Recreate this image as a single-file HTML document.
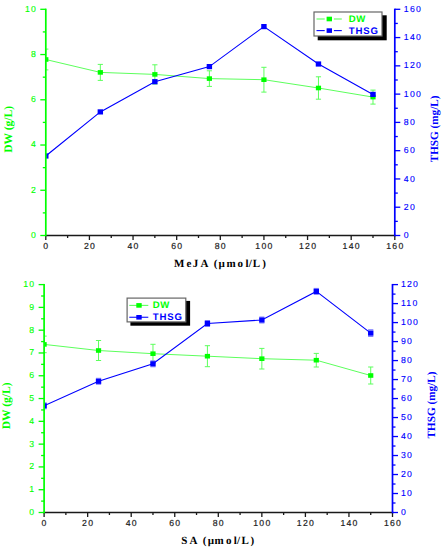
<!DOCTYPE html><html><head><meta charset="utf-8"><style>html,body{margin:0;padding:0;background:#fff;}svg{display:block;} text{text-rendering:geometricPrecision;}</style></head><body>
<svg width="445" height="550" viewBox="0 0 445 550">
<rect width="445" height="550" fill="#fff"/>
<clipPath id="c1"><rect x="46.1" y="9.3" width="349" height="226.2"/></clipPath>
<g clip-path="url(#c1)">
<polyline points="45.8,59.5 100.33,72.4 154.86,74.4 209.39,78.6 263.93,79.7 318.46,88 372.99,97.1" fill="none" stroke="#5cff5c" stroke-width="1"/>
<line x1="45.8" y1="49.1" x2="45.8" y2="69.9" stroke="#5cff5c" stroke-width="1"/>
<line x1="43.2" y1="49.1" x2="48.4" y2="49.1" stroke="#5cff5c" stroke-width="1"/>
<line x1="43.2" y1="69.9" x2="48.4" y2="69.9" stroke="#5cff5c" stroke-width="1"/>
<line x1="100.33" y1="64.4" x2="100.33" y2="80.4" stroke="#5cff5c" stroke-width="1"/>
<line x1="97.73" y1="64.4" x2="102.93" y2="64.4" stroke="#5cff5c" stroke-width="1"/>
<line x1="97.73" y1="80.4" x2="102.93" y2="80.4" stroke="#5cff5c" stroke-width="1"/>
<line x1="154.86" y1="64.8" x2="154.86" y2="84" stroke="#5cff5c" stroke-width="1"/>
<line x1="152.26" y1="64.8" x2="157.46" y2="64.8" stroke="#5cff5c" stroke-width="1"/>
<line x1="152.26" y1="84" x2="157.46" y2="84" stroke="#5cff5c" stroke-width="1"/>
<line x1="209.39" y1="70.8" x2="209.39" y2="86.4" stroke="#5cff5c" stroke-width="1"/>
<line x1="206.79" y1="70.8" x2="211.99" y2="70.8" stroke="#5cff5c" stroke-width="1"/>
<line x1="206.79" y1="86.4" x2="211.99" y2="86.4" stroke="#5cff5c" stroke-width="1"/>
<line x1="263.93" y1="67.3" x2="263.93" y2="92.1" stroke="#5cff5c" stroke-width="1"/>
<line x1="261.32" y1="67.3" x2="266.53" y2="67.3" stroke="#5cff5c" stroke-width="1"/>
<line x1="261.32" y1="92.1" x2="266.53" y2="92.1" stroke="#5cff5c" stroke-width="1"/>
<line x1="318.46" y1="76.8" x2="318.46" y2="99.2" stroke="#5cff5c" stroke-width="1"/>
<line x1="315.86" y1="76.8" x2="321.06" y2="76.8" stroke="#5cff5c" stroke-width="1"/>
<line x1="315.86" y1="99.2" x2="321.06" y2="99.2" stroke="#5cff5c" stroke-width="1"/>
<line x1="372.99" y1="90.1" x2="372.99" y2="104.1" stroke="#5cff5c" stroke-width="1"/>
<line x1="370.39" y1="90.1" x2="375.59" y2="90.1" stroke="#5cff5c" stroke-width="1"/>
<line x1="370.39" y1="104.1" x2="375.59" y2="104.1" stroke="#5cff5c" stroke-width="1"/>
<rect x="43.2" y="57.2" width="5.2" height="4.6" fill="#00ff00"/>
<rect x="97.73" y="70.1" width="5.2" height="4.6" fill="#00ff00"/>
<rect x="152.26" y="72.1" width="5.2" height="4.6" fill="#00ff00"/>
<rect x="206.79" y="76.3" width="5.2" height="4.6" fill="#00ff00"/>
<rect x="261.32" y="77.4" width="5.2" height="4.6" fill="#00ff00"/>
<rect x="315.86" y="85.7" width="5.2" height="4.6" fill="#00ff00"/>
<rect x="370.39" y="94.8" width="5.2" height="4.6" fill="#00ff00"/>
<polyline points="45.8,156 100.33,111.9 154.86,81.7 209.39,66.6 263.93,26.6 318.46,64 372.99,94.4" fill="none" stroke="#0000ff" stroke-width="1.12"/>
<rect x="43.1" y="153.4" width="5.4" height="5.2" fill="#0000ff"/>
<rect x="97.63" y="109.3" width="5.4" height="5.2" fill="#0000ff"/>
<rect x="152.16" y="79.1" width="5.4" height="5.2" fill="#0000ff"/>
<rect x="206.69" y="64" width="5.4" height="5.2" fill="#0000ff"/>
<rect x="261.23" y="24" width="5.4" height="5.2" fill="#0000ff"/>
<rect x="315.76" y="61.4" width="5.4" height="5.2" fill="#0000ff"/>
<rect x="370.29" y="91.8" width="5.4" height="5.2" fill="#0000ff"/>
</g>
<rect x="44.95" y="234.75" width="350.7" height="1.5" fill="#1a1a1a"/>
<rect x="45.15" y="235.5" width="1.3" height="4.5" fill="#1a1a1a"/>
<text x="46.35" y="249.4" fill="#222" font-size="8.7" font-weight="normal" font-family='"Liberation Sans", sans-serif' text-anchor="middle" letter-spacing="1.25" stroke="#222" stroke-width="0.18" >0</text>
<rect x="66.96" y="235.5" width="1.3" height="2.5" fill="#1a1a1a"/>
<rect x="88.77" y="235.5" width="1.3" height="4.5" fill="#1a1a1a"/>
<text x="89.97" y="249.4" fill="#222" font-size="8.7" font-weight="normal" font-family='"Liberation Sans", sans-serif' text-anchor="middle" letter-spacing="1.25" stroke="#222" stroke-width="0.18" >20</text>
<rect x="110.59" y="235.5" width="1.3" height="2.5" fill="#1a1a1a"/>
<rect x="132.4" y="235.5" width="1.3" height="4.5" fill="#1a1a1a"/>
<text x="133.6" y="249.4" fill="#222" font-size="8.7" font-weight="normal" font-family='"Liberation Sans", sans-serif' text-anchor="middle" letter-spacing="1.25" stroke="#222" stroke-width="0.18" >40</text>
<rect x="154.21" y="235.5" width="1.3" height="2.5" fill="#1a1a1a"/>
<rect x="176.03" y="235.5" width="1.3" height="4.5" fill="#1a1a1a"/>
<text x="177.23" y="249.4" fill="#222" font-size="8.7" font-weight="normal" font-family='"Liberation Sans", sans-serif' text-anchor="middle" letter-spacing="1.25" stroke="#222" stroke-width="0.18" >60</text>
<rect x="197.84" y="235.5" width="1.3" height="2.5" fill="#1a1a1a"/>
<rect x="219.65" y="235.5" width="1.3" height="4.5" fill="#1a1a1a"/>
<text x="220.85" y="249.4" fill="#222" font-size="8.7" font-weight="normal" font-family='"Liberation Sans", sans-serif' text-anchor="middle" letter-spacing="1.25" stroke="#222" stroke-width="0.18" >80</text>
<rect x="241.46" y="235.5" width="1.3" height="2.5" fill="#1a1a1a"/>
<rect x="263.28" y="235.5" width="1.3" height="4.5" fill="#1a1a1a"/>
<text x="264.48" y="249.4" fill="#222" font-size="8.7" font-weight="normal" font-family='"Liberation Sans", sans-serif' text-anchor="middle" letter-spacing="1.25" stroke="#222" stroke-width="0.18" >100</text>
<rect x="285.09" y="235.5" width="1.3" height="2.5" fill="#1a1a1a"/>
<rect x="306.9" y="235.5" width="1.3" height="4.5" fill="#1a1a1a"/>
<text x="308.1" y="249.4" fill="#222" font-size="8.7" font-weight="normal" font-family='"Liberation Sans", sans-serif' text-anchor="middle" letter-spacing="1.25" stroke="#222" stroke-width="0.18" >120</text>
<rect x="328.71" y="235.5" width="1.3" height="2.5" fill="#1a1a1a"/>
<rect x="350.53" y="235.5" width="1.3" height="4.5" fill="#1a1a1a"/>
<text x="351.73" y="249.4" fill="#222" font-size="8.7" font-weight="normal" font-family='"Liberation Sans", sans-serif' text-anchor="middle" letter-spacing="1.25" stroke="#222" stroke-width="0.18" >140</text>
<rect x="372.34" y="235.5" width="1.3" height="2.5" fill="#1a1a1a"/>
<rect x="394.15" y="235.5" width="1.3" height="4.5" fill="#1a1a1a"/>
<text x="395.35" y="249.4" fill="#222" font-size="8.7" font-weight="normal" font-family='"Liberation Sans", sans-serif' text-anchor="middle" letter-spacing="1.25" stroke="#222" stroke-width="0.18" >160</text>
<rect x="44.95" y="8.65" width="1.7" height="227.6" fill="#00ff00"/>
<rect x="40.3" y="234.85" width="5.5" height="1.3" fill="#00ff00"/>
<text x="37.1" y="237.9" fill="#00ff00" font-size="8.7" font-weight="normal" font-family='"Liberation Sans", sans-serif' text-anchor="end" letter-spacing="1.25" stroke="#00ff00" stroke-width="0.12" >0</text>
<rect x="42.8" y="212.23" width="3" height="1.3" fill="#00ff00"/>
<rect x="40.3" y="189.61" width="5.5" height="1.3" fill="#00ff00"/>
<text x="37.1" y="192.66" fill="#00ff00" font-size="8.7" font-weight="normal" font-family='"Liberation Sans", sans-serif' text-anchor="end" letter-spacing="1.25" stroke="#00ff00" stroke-width="0.12" >2</text>
<rect x="42.8" y="166.99" width="3" height="1.3" fill="#00ff00"/>
<rect x="40.3" y="144.37" width="5.5" height="1.3" fill="#00ff00"/>
<text x="37.1" y="147.42" fill="#00ff00" font-size="8.7" font-weight="normal" font-family='"Liberation Sans", sans-serif' text-anchor="end" letter-spacing="1.25" stroke="#00ff00" stroke-width="0.12" >4</text>
<rect x="42.8" y="121.75" width="3" height="1.3" fill="#00ff00"/>
<rect x="40.3" y="99.13" width="5.5" height="1.3" fill="#00ff00"/>
<text x="37.1" y="102.18" fill="#00ff00" font-size="8.7" font-weight="normal" font-family='"Liberation Sans", sans-serif' text-anchor="end" letter-spacing="1.25" stroke="#00ff00" stroke-width="0.12" >6</text>
<rect x="42.8" y="76.51" width="3" height="1.3" fill="#00ff00"/>
<rect x="40.3" y="53.89" width="5.5" height="1.3" fill="#00ff00"/>
<text x="37.1" y="56.94" fill="#00ff00" font-size="8.7" font-weight="normal" font-family='"Liberation Sans", sans-serif' text-anchor="end" letter-spacing="1.25" stroke="#00ff00" stroke-width="0.12" >8</text>
<rect x="42.8" y="31.27" width="3" height="1.3" fill="#00ff00"/>
<rect x="40.3" y="8.65" width="5.5" height="1.3" fill="#00ff00"/>
<text x="37.1" y="11.7" fill="#00ff00" font-size="8.7" font-weight="normal" font-family='"Liberation Sans", sans-serif' text-anchor="end" letter-spacing="1.25" stroke="#00ff00" stroke-width="0.12" >10</text>
<rect x="393.95" y="8.65" width="1.7" height="227.6" fill="#0000ff"/>
<rect x="394.8" y="234.85" width="5.5" height="1.3" fill="#0000ff"/>
<text x="403.8" y="238.1" fill="#0000ff" font-size="8.7" font-weight="normal" font-family='"Liberation Sans", sans-serif' text-anchor="start" letter-spacing="1.25" stroke="#0000ff" stroke-width="0.12" >0</text>
<rect x="394.8" y="220.71" width="3" height="1.3" fill="#0000ff"/>
<rect x="394.8" y="206.57" width="5.5" height="1.3" fill="#0000ff"/>
<text x="403.8" y="209.82" fill="#0000ff" font-size="8.7" font-weight="normal" font-family='"Liberation Sans", sans-serif' text-anchor="start" letter-spacing="1.25" stroke="#0000ff" stroke-width="0.12" >20</text>
<rect x="394.8" y="192.44" width="3" height="1.3" fill="#0000ff"/>
<rect x="394.8" y="178.3" width="5.5" height="1.3" fill="#0000ff"/>
<text x="403.8" y="181.55" fill="#0000ff" font-size="8.7" font-weight="normal" font-family='"Liberation Sans", sans-serif' text-anchor="start" letter-spacing="1.25" stroke="#0000ff" stroke-width="0.12" >40</text>
<rect x="394.8" y="164.16" width="3" height="1.3" fill="#0000ff"/>
<rect x="394.8" y="150.03" width="5.5" height="1.3" fill="#0000ff"/>
<text x="403.8" y="153.28" fill="#0000ff" font-size="8.7" font-weight="normal" font-family='"Liberation Sans", sans-serif' text-anchor="start" letter-spacing="1.25" stroke="#0000ff" stroke-width="0.12" >60</text>
<rect x="394.8" y="135.89" width="3" height="1.3" fill="#0000ff"/>
<rect x="394.8" y="121.75" width="5.5" height="1.3" fill="#0000ff"/>
<text x="403.8" y="125" fill="#0000ff" font-size="8.7" font-weight="normal" font-family='"Liberation Sans", sans-serif' text-anchor="start" letter-spacing="1.25" stroke="#0000ff" stroke-width="0.12" >80</text>
<rect x="394.8" y="107.61" width="3" height="1.3" fill="#0000ff"/>
<rect x="394.8" y="93.47" width="5.5" height="1.3" fill="#0000ff"/>
<text x="403.8" y="96.72" fill="#0000ff" font-size="8.7" font-weight="normal" font-family='"Liberation Sans", sans-serif' text-anchor="start" letter-spacing="1.25" stroke="#0000ff" stroke-width="0.12" >100</text>
<rect x="394.8" y="79.34" width="3" height="1.3" fill="#0000ff"/>
<rect x="394.8" y="65.2" width="5.5" height="1.3" fill="#0000ff"/>
<text x="403.8" y="68.45" fill="#0000ff" font-size="8.7" font-weight="normal" font-family='"Liberation Sans", sans-serif' text-anchor="start" letter-spacing="1.25" stroke="#0000ff" stroke-width="0.12" >120</text>
<rect x="394.8" y="51.06" width="3" height="1.3" fill="#0000ff"/>
<rect x="394.8" y="36.92" width="5.5" height="1.3" fill="#0000ff"/>
<text x="403.8" y="40.17" fill="#0000ff" font-size="8.7" font-weight="normal" font-family='"Liberation Sans", sans-serif' text-anchor="start" letter-spacing="1.25" stroke="#0000ff" stroke-width="0.12" >140</text>
<rect x="394.8" y="22.79" width="3" height="1.3" fill="#0000ff"/>
<rect x="394.8" y="8.65" width="5.5" height="1.3" fill="#0000ff"/>
<text x="403.8" y="11.9" fill="#0000ff" font-size="8.7" font-weight="normal" font-family='"Liberation Sans", sans-serif' text-anchor="start" letter-spacing="1.25" stroke="#0000ff" stroke-width="0.12" >160</text>
<rect x="317.7" y="15.3" width="69" height="25" fill="#000"/>
<rect x="314" y="12" width="68" height="24" fill="#fff" stroke="#666" stroke-width="1.2"/>
<line x1="316.5" y1="19" x2="324.7" y2="19" stroke="#5cff5c" stroke-width="1.1"/>
<line x1="333.9" y1="19" x2="341.8" y2="19" stroke="#5cff5c" stroke-width="1.1"/>
<rect x="326.6" y="16.7" width="5.4" height="4.6" fill="#00ff00"/>
<line x1="316.5" y1="30.6" x2="324.7" y2="30.6" stroke="#0000ff" stroke-width="1.1"/>
<line x1="333.9" y1="30.6" x2="341.8" y2="30.6" stroke="#0000ff" stroke-width="1.1"/>
<rect x="326.6" y="28.3" width="5.4" height="4.6" fill="#0000ff"/>
<text x="348.8" y="22" fill="#00ff00" font-size="9.6" font-weight="bold" font-family='"Liberation Sans", sans-serif' text-anchor="start" letter-spacing="0.4" >DW</text>
<text x="348.8" y="33.6" fill="#0000ff" font-size="9.6" font-weight="bold" font-family='"Liberation Sans", sans-serif' text-anchor="start" letter-spacing="0.8" >THSG</text>
<text x="174 186.4 192.8 200.5 213.7 218.5 226.5 237.5 245.4 248.7 252.8 262.3" y="266.6" fill="#000" font-size="11" font-weight="bold" font-family='"Liberation Serif", serif'>MeJA(&#181;mol/L)</text>
<text x="12.2" y="129.4" fill="#00ff00" font-size="11.5" font-weight="bold" font-family='"Liberation Serif", serif' text-anchor="middle" transform="rotate(-90 12.2 129.4)">DW (g/L)</text>
<text x="437.9" y="128.9" fill="#0000ff" font-size="11.2" font-weight="bold" font-family='"Liberation Serif", serif' text-anchor="middle" transform="rotate(-90 437.9 128.9)">THSG (mg/L)</text>
<clipPath id="c2"><rect x="44.8" y="284.6" width="348.4" height="227.9"/></clipPath>
<g clip-path="url(#c2)">
<polyline points="44.1,344.4 98.54,350.5 152.97,353.7 207.41,356.2 261.85,358.7 316.29,360.2 370.73,375.5" fill="none" stroke="#5cff5c" stroke-width="1"/>
<line x1="44.1" y1="336.1" x2="44.1" y2="352.7" stroke="#5cff5c" stroke-width="1"/>
<line x1="41.5" y1="336.1" x2="46.7" y2="336.1" stroke="#5cff5c" stroke-width="1"/>
<line x1="41.5" y1="352.7" x2="46.7" y2="352.7" stroke="#5cff5c" stroke-width="1"/>
<line x1="98.54" y1="340.5" x2="98.54" y2="360.5" stroke="#5cff5c" stroke-width="1"/>
<line x1="95.94" y1="340.5" x2="101.14" y2="340.5" stroke="#5cff5c" stroke-width="1"/>
<line x1="95.94" y1="360.5" x2="101.14" y2="360.5" stroke="#5cff5c" stroke-width="1"/>
<line x1="152.97" y1="344.3" x2="152.97" y2="363.1" stroke="#5cff5c" stroke-width="1"/>
<line x1="150.38" y1="344.3" x2="155.57" y2="344.3" stroke="#5cff5c" stroke-width="1"/>
<line x1="150.38" y1="363.1" x2="155.57" y2="363.1" stroke="#5cff5c" stroke-width="1"/>
<line x1="207.41" y1="345.7" x2="207.41" y2="366.7" stroke="#5cff5c" stroke-width="1"/>
<line x1="204.81" y1="345.7" x2="210.01" y2="345.7" stroke="#5cff5c" stroke-width="1"/>
<line x1="204.81" y1="366.7" x2="210.01" y2="366.7" stroke="#5cff5c" stroke-width="1"/>
<line x1="261.85" y1="348.4" x2="261.85" y2="369" stroke="#5cff5c" stroke-width="1"/>
<line x1="259.25" y1="348.4" x2="264.45" y2="348.4" stroke="#5cff5c" stroke-width="1"/>
<line x1="259.25" y1="369" x2="264.45" y2="369" stroke="#5cff5c" stroke-width="1"/>
<line x1="316.29" y1="353.4" x2="316.29" y2="367" stroke="#5cff5c" stroke-width="1"/>
<line x1="313.69" y1="353.4" x2="318.89" y2="353.4" stroke="#5cff5c" stroke-width="1"/>
<line x1="313.69" y1="367" x2="318.89" y2="367" stroke="#5cff5c" stroke-width="1"/>
<line x1="370.73" y1="367" x2="370.73" y2="384" stroke="#5cff5c" stroke-width="1"/>
<line x1="368.12" y1="367" x2="373.33" y2="367" stroke="#5cff5c" stroke-width="1"/>
<line x1="368.12" y1="384" x2="373.33" y2="384" stroke="#5cff5c" stroke-width="1"/>
<rect x="41.5" y="342.1" width="5.2" height="4.6" fill="#00ff00"/>
<rect x="95.94" y="348.2" width="5.2" height="4.6" fill="#00ff00"/>
<rect x="150.38" y="351.4" width="5.2" height="4.6" fill="#00ff00"/>
<rect x="204.81" y="353.9" width="5.2" height="4.6" fill="#00ff00"/>
<rect x="259.25" y="356.4" width="5.2" height="4.6" fill="#00ff00"/>
<rect x="313.69" y="357.9" width="5.2" height="4.6" fill="#00ff00"/>
<rect x="368.12" y="373.2" width="5.2" height="4.6" fill="#00ff00"/>
<polyline points="44.1,405.8 98.54,381.3 152.97,363.8 207.41,323.5 261.85,320 316.29,291.4 370.73,333.1" fill="none" stroke="#0000ff" stroke-width="1.12"/>
<line x1="41.5" y1="402.8" x2="46.7" y2="402.8" stroke="#8080ff" stroke-width="1"/>
<line x1="41.5" y1="408.8" x2="46.7" y2="408.8" stroke="#8080ff" stroke-width="1"/>
<line x1="95.94" y1="378.3" x2="101.14" y2="378.3" stroke="#8080ff" stroke-width="1"/>
<line x1="95.94" y1="384.3" x2="101.14" y2="384.3" stroke="#8080ff" stroke-width="1"/>
<line x1="150.38" y1="360.8" x2="155.57" y2="360.8" stroke="#8080ff" stroke-width="1"/>
<line x1="150.38" y1="366.8" x2="155.57" y2="366.8" stroke="#8080ff" stroke-width="1"/>
<line x1="204.81" y1="320.5" x2="210.01" y2="320.5" stroke="#8080ff" stroke-width="1"/>
<line x1="204.81" y1="326.5" x2="210.01" y2="326.5" stroke="#8080ff" stroke-width="1"/>
<line x1="259.25" y1="317" x2="264.45" y2="317" stroke="#8080ff" stroke-width="1"/>
<line x1="259.25" y1="323" x2="264.45" y2="323" stroke="#8080ff" stroke-width="1"/>
<line x1="313.69" y1="288.4" x2="318.89" y2="288.4" stroke="#8080ff" stroke-width="1"/>
<line x1="313.69" y1="294.4" x2="318.89" y2="294.4" stroke="#8080ff" stroke-width="1"/>
<line x1="368.12" y1="329.7" x2="373.33" y2="329.7" stroke="#8080ff" stroke-width="1"/>
<line x1="368.12" y1="336.5" x2="373.33" y2="336.5" stroke="#8080ff" stroke-width="1"/>
<rect x="41.4" y="403.2" width="5.4" height="5.2" fill="#0000ff"/>
<rect x="95.84" y="378.7" width="5.4" height="5.2" fill="#0000ff"/>
<rect x="150.28" y="361.2" width="5.4" height="5.2" fill="#0000ff"/>
<rect x="204.71" y="320.9" width="5.4" height="5.2" fill="#0000ff"/>
<rect x="259.15" y="317.4" width="5.4" height="5.2" fill="#0000ff"/>
<rect x="313.59" y="288.8" width="5.4" height="5.2" fill="#0000ff"/>
<rect x="368.03" y="330.5" width="5.4" height="5.2" fill="#0000ff"/>
</g>
<rect x="43.25" y="511.75" width="350.1" height="1.5" fill="#1a1a1a"/>
<rect x="43.45" y="512.5" width="1.3" height="4.5" fill="#1a1a1a"/>
<text x="44.65" y="526.4" fill="#222" font-size="8.7" font-weight="normal" font-family='"Liberation Sans", sans-serif' text-anchor="middle" letter-spacing="1.25" stroke="#222" stroke-width="0.18" >0</text>
<rect x="65.22" y="512.5" width="1.3" height="2.5" fill="#1a1a1a"/>
<rect x="87" y="512.5" width="1.3" height="4.5" fill="#1a1a1a"/>
<text x="88.2" y="526.4" fill="#222" font-size="8.7" font-weight="normal" font-family='"Liberation Sans", sans-serif' text-anchor="middle" letter-spacing="1.25" stroke="#222" stroke-width="0.18" >20</text>
<rect x="108.78" y="512.5" width="1.3" height="2.5" fill="#1a1a1a"/>
<rect x="130.55" y="512.5" width="1.3" height="4.5" fill="#1a1a1a"/>
<text x="131.75" y="526.4" fill="#222" font-size="8.7" font-weight="normal" font-family='"Liberation Sans", sans-serif' text-anchor="middle" letter-spacing="1.25" stroke="#222" stroke-width="0.18" >40</text>
<rect x="152.32" y="512.5" width="1.3" height="2.5" fill="#1a1a1a"/>
<rect x="174.1" y="512.5" width="1.3" height="4.5" fill="#1a1a1a"/>
<text x="175.3" y="526.4" fill="#222" font-size="8.7" font-weight="normal" font-family='"Liberation Sans", sans-serif' text-anchor="middle" letter-spacing="1.25" stroke="#222" stroke-width="0.18" >60</text>
<rect x="195.88" y="512.5" width="1.3" height="2.5" fill="#1a1a1a"/>
<rect x="217.65" y="512.5" width="1.3" height="4.5" fill="#1a1a1a"/>
<text x="218.85" y="526.4" fill="#222" font-size="8.7" font-weight="normal" font-family='"Liberation Sans", sans-serif' text-anchor="middle" letter-spacing="1.25" stroke="#222" stroke-width="0.18" >80</text>
<rect x="239.42" y="512.5" width="1.3" height="2.5" fill="#1a1a1a"/>
<rect x="261.2" y="512.5" width="1.3" height="4.5" fill="#1a1a1a"/>
<text x="262.4" y="526.4" fill="#222" font-size="8.7" font-weight="normal" font-family='"Liberation Sans", sans-serif' text-anchor="middle" letter-spacing="1.25" stroke="#222" stroke-width="0.18" >100</text>
<rect x="282.98" y="512.5" width="1.3" height="2.5" fill="#1a1a1a"/>
<rect x="304.75" y="512.5" width="1.3" height="4.5" fill="#1a1a1a"/>
<text x="305.95" y="526.4" fill="#222" font-size="8.7" font-weight="normal" font-family='"Liberation Sans", sans-serif' text-anchor="middle" letter-spacing="1.25" stroke="#222" stroke-width="0.18" >120</text>
<rect x="326.53" y="512.5" width="1.3" height="2.5" fill="#1a1a1a"/>
<rect x="348.3" y="512.5" width="1.3" height="4.5" fill="#1a1a1a"/>
<text x="349.5" y="526.4" fill="#222" font-size="8.7" font-weight="normal" font-family='"Liberation Sans", sans-serif' text-anchor="middle" letter-spacing="1.25" stroke="#222" stroke-width="0.18" >140</text>
<rect x="370.08" y="512.5" width="1.3" height="2.5" fill="#1a1a1a"/>
<rect x="391.85" y="512.5" width="1.3" height="4.5" fill="#1a1a1a"/>
<text x="393.05" y="526.4" fill="#222" font-size="8.7" font-weight="normal" font-family='"Liberation Sans", sans-serif' text-anchor="middle" letter-spacing="1.25" stroke="#222" stroke-width="0.18" >160</text>
<rect x="43.25" y="283.95" width="1.7" height="229.3" fill="#00ff00"/>
<rect x="38.6" y="511.85" width="5.5" height="1.3" fill="#00ff00"/>
<text x="35.3" y="514.9" fill="#00ff00" font-size="8.7" font-weight="normal" font-family='"Liberation Sans", sans-serif' text-anchor="end" letter-spacing="1.25" stroke="#00ff00" stroke-width="0.12" >0</text>
<rect x="41.1" y="500.46" width="3" height="1.3" fill="#00ff00"/>
<rect x="38.6" y="489.06" width="5.5" height="1.3" fill="#00ff00"/>
<text x="35.3" y="492.11" fill="#00ff00" font-size="8.7" font-weight="normal" font-family='"Liberation Sans", sans-serif' text-anchor="end" letter-spacing="1.25" stroke="#00ff00" stroke-width="0.12" >1</text>
<rect x="41.1" y="477.67" width="3" height="1.3" fill="#00ff00"/>
<rect x="38.6" y="466.27" width="5.5" height="1.3" fill="#00ff00"/>
<text x="35.3" y="469.32" fill="#00ff00" font-size="8.7" font-weight="normal" font-family='"Liberation Sans", sans-serif' text-anchor="end" letter-spacing="1.25" stroke="#00ff00" stroke-width="0.12" >2</text>
<rect x="41.1" y="454.88" width="3" height="1.3" fill="#00ff00"/>
<rect x="38.6" y="443.48" width="5.5" height="1.3" fill="#00ff00"/>
<text x="35.3" y="446.53" fill="#00ff00" font-size="8.7" font-weight="normal" font-family='"Liberation Sans", sans-serif' text-anchor="end" letter-spacing="1.25" stroke="#00ff00" stroke-width="0.12" >3</text>
<rect x="41.1" y="432.09" width="3" height="1.3" fill="#00ff00"/>
<rect x="38.6" y="420.69" width="5.5" height="1.3" fill="#00ff00"/>
<text x="35.3" y="423.74" fill="#00ff00" font-size="8.7" font-weight="normal" font-family='"Liberation Sans", sans-serif' text-anchor="end" letter-spacing="1.25" stroke="#00ff00" stroke-width="0.12" >4</text>
<rect x="41.1" y="409.3" width="3" height="1.3" fill="#00ff00"/>
<rect x="38.6" y="397.9" width="5.5" height="1.3" fill="#00ff00"/>
<text x="35.3" y="400.95" fill="#00ff00" font-size="8.7" font-weight="normal" font-family='"Liberation Sans", sans-serif' text-anchor="end" letter-spacing="1.25" stroke="#00ff00" stroke-width="0.12" >5</text>
<rect x="41.1" y="386.51" width="3" height="1.3" fill="#00ff00"/>
<rect x="38.6" y="375.11" width="5.5" height="1.3" fill="#00ff00"/>
<text x="35.3" y="378.16" fill="#00ff00" font-size="8.7" font-weight="normal" font-family='"Liberation Sans", sans-serif' text-anchor="end" letter-spacing="1.25" stroke="#00ff00" stroke-width="0.12" >6</text>
<rect x="41.1" y="363.72" width="3" height="1.3" fill="#00ff00"/>
<rect x="38.6" y="352.32" width="5.5" height="1.3" fill="#00ff00"/>
<text x="35.3" y="355.37" fill="#00ff00" font-size="8.7" font-weight="normal" font-family='"Liberation Sans", sans-serif' text-anchor="end" letter-spacing="1.25" stroke="#00ff00" stroke-width="0.12" >7</text>
<rect x="41.1" y="340.93" width="3" height="1.3" fill="#00ff00"/>
<rect x="38.6" y="329.53" width="5.5" height="1.3" fill="#00ff00"/>
<text x="35.3" y="332.58" fill="#00ff00" font-size="8.7" font-weight="normal" font-family='"Liberation Sans", sans-serif' text-anchor="end" letter-spacing="1.25" stroke="#00ff00" stroke-width="0.12" >8</text>
<rect x="41.1" y="318.14" width="3" height="1.3" fill="#00ff00"/>
<rect x="38.6" y="306.74" width="5.5" height="1.3" fill="#00ff00"/>
<text x="35.3" y="309.79" fill="#00ff00" font-size="8.7" font-weight="normal" font-family='"Liberation Sans", sans-serif' text-anchor="end" letter-spacing="1.25" stroke="#00ff00" stroke-width="0.12" >9</text>
<rect x="41.1" y="295.35" width="3" height="1.3" fill="#00ff00"/>
<rect x="38.6" y="283.95" width="5.5" height="1.3" fill="#00ff00"/>
<text x="35.3" y="287" fill="#00ff00" font-size="8.7" font-weight="normal" font-family='"Liberation Sans", sans-serif' text-anchor="end" letter-spacing="1.25" stroke="#00ff00" stroke-width="0.12" >10</text>
<rect x="391.65" y="283.95" width="1.7" height="229.3" fill="#0000ff"/>
<rect x="392.5" y="511.85" width="5.5" height="1.3" fill="#0000ff"/>
<text x="400.9" y="515.1" fill="#0000ff" font-size="8.7" font-weight="normal" font-family='"Liberation Sans", sans-serif' text-anchor="start" letter-spacing="1.25" stroke="#0000ff" stroke-width="0.12" >0</text>
<rect x="392.5" y="502.35" width="3" height="1.3" fill="#0000ff"/>
<rect x="392.5" y="492.86" width="5.5" height="1.3" fill="#0000ff"/>
<text x="400.9" y="496.11" fill="#0000ff" font-size="8.7" font-weight="normal" font-family='"Liberation Sans", sans-serif' text-anchor="start" letter-spacing="1.25" stroke="#0000ff" stroke-width="0.12" >10</text>
<rect x="392.5" y="483.36" width="3" height="1.3" fill="#0000ff"/>
<rect x="392.5" y="473.87" width="5.5" height="1.3" fill="#0000ff"/>
<text x="400.9" y="477.12" fill="#0000ff" font-size="8.7" font-weight="normal" font-family='"Liberation Sans", sans-serif' text-anchor="start" letter-spacing="1.25" stroke="#0000ff" stroke-width="0.12" >20</text>
<rect x="392.5" y="464.37" width="3" height="1.3" fill="#0000ff"/>
<rect x="392.5" y="454.88" width="5.5" height="1.3" fill="#0000ff"/>
<text x="400.9" y="458.12" fill="#0000ff" font-size="8.7" font-weight="normal" font-family='"Liberation Sans", sans-serif' text-anchor="start" letter-spacing="1.25" stroke="#0000ff" stroke-width="0.12" >30</text>
<rect x="392.5" y="445.38" width="3" height="1.3" fill="#0000ff"/>
<rect x="392.5" y="435.88" width="5.5" height="1.3" fill="#0000ff"/>
<text x="400.9" y="439.13" fill="#0000ff" font-size="8.7" font-weight="normal" font-family='"Liberation Sans", sans-serif' text-anchor="start" letter-spacing="1.25" stroke="#0000ff" stroke-width="0.12" >40</text>
<rect x="392.5" y="426.39" width="3" height="1.3" fill="#0000ff"/>
<rect x="392.5" y="416.89" width="5.5" height="1.3" fill="#0000ff"/>
<text x="400.9" y="420.14" fill="#0000ff" font-size="8.7" font-weight="normal" font-family='"Liberation Sans", sans-serif' text-anchor="start" letter-spacing="1.25" stroke="#0000ff" stroke-width="0.12" >50</text>
<rect x="392.5" y="407.4" width="3" height="1.3" fill="#0000ff"/>
<rect x="392.5" y="397.9" width="5.5" height="1.3" fill="#0000ff"/>
<text x="400.9" y="401.15" fill="#0000ff" font-size="8.7" font-weight="normal" font-family='"Liberation Sans", sans-serif' text-anchor="start" letter-spacing="1.25" stroke="#0000ff" stroke-width="0.12" >60</text>
<rect x="392.5" y="388.4" width="3" height="1.3" fill="#0000ff"/>
<rect x="392.5" y="378.91" width="5.5" height="1.3" fill="#0000ff"/>
<text x="400.9" y="382.16" fill="#0000ff" font-size="8.7" font-weight="normal" font-family='"Liberation Sans", sans-serif' text-anchor="start" letter-spacing="1.25" stroke="#0000ff" stroke-width="0.12" >70</text>
<rect x="392.5" y="369.41" width="3" height="1.3" fill="#0000ff"/>
<rect x="392.5" y="359.92" width="5.5" height="1.3" fill="#0000ff"/>
<text x="400.9" y="363.17" fill="#0000ff" font-size="8.7" font-weight="normal" font-family='"Liberation Sans", sans-serif' text-anchor="start" letter-spacing="1.25" stroke="#0000ff" stroke-width="0.12" >80</text>
<rect x="392.5" y="350.42" width="3" height="1.3" fill="#0000ff"/>
<rect x="392.5" y="340.93" width="5.5" height="1.3" fill="#0000ff"/>
<text x="400.9" y="344.18" fill="#0000ff" font-size="8.7" font-weight="normal" font-family='"Liberation Sans", sans-serif' text-anchor="start" letter-spacing="1.25" stroke="#0000ff" stroke-width="0.12" >90</text>
<rect x="392.5" y="331.43" width="3" height="1.3" fill="#0000ff"/>
<rect x="392.5" y="321.93" width="5.5" height="1.3" fill="#0000ff"/>
<text x="400.9" y="325.18" fill="#0000ff" font-size="8.7" font-weight="normal" font-family='"Liberation Sans", sans-serif' text-anchor="start" letter-spacing="1.25" stroke="#0000ff" stroke-width="0.12" >100</text>
<rect x="392.5" y="312.44" width="3" height="1.3" fill="#0000ff"/>
<rect x="392.5" y="302.94" width="5.5" height="1.3" fill="#0000ff"/>
<text x="400.9" y="306.19" fill="#0000ff" font-size="8.7" font-weight="normal" font-family='"Liberation Sans", sans-serif' text-anchor="start" letter-spacing="1.25" stroke="#0000ff" stroke-width="0.12" >110</text>
<rect x="392.5" y="293.45" width="3" height="1.3" fill="#0000ff"/>
<rect x="392.5" y="283.95" width="5.5" height="1.3" fill="#0000ff"/>
<text x="400.9" y="287.2" fill="#0000ff" font-size="8.7" font-weight="normal" font-family='"Liberation Sans", sans-serif' text-anchor="start" letter-spacing="1.25" stroke="#0000ff" stroke-width="0.12" >120</text>
<rect x="130.4" y="300.9" width="59.7" height="24.8" fill="#000"/>
<rect x="127.1" y="298.1" width="58.7" height="23.8" fill="#fff" stroke="#666" stroke-width="1.2"/>
<line x1="129.3" y1="305.4" x2="148.3" y2="305.4" stroke="#5cff5c" stroke-width="1.1"/>
<rect x="136.3" y="303.1" width="5.4" height="4.6" fill="#00ff00"/>
<line x1="129.3" y1="317.3" x2="148.3" y2="317.3" stroke="#3030ff" stroke-width="1.3"/>
<rect x="136.3" y="315" width="5.4" height="4.6" fill="#0000ff"/>
<text x="152.8" y="308.4" fill="#00ff00" font-size="9.6" font-weight="bold" font-family='"Liberation Sans", sans-serif' text-anchor="start" letter-spacing="0.4" >DW</text>
<text x="152.8" y="320.3" fill="#0000ff" font-size="9.6" font-weight="bold" font-family='"Liberation Sans", sans-serif' text-anchor="start" letter-spacing="0.8" >THSG</text>
<text x="181.2 189.4 202.7 207.8 214.6 226.1 233.7 236.9 241.6 250.6" y="544.2" fill="#000" font-size="11" font-weight="bold" font-family='"Liberation Serif", serif'>SA(&#181;mol/L)</text>
<text x="10.4" y="405.9" fill="#00ff00" font-size="11.5" font-weight="bold" font-family='"Liberation Serif", serif' text-anchor="middle" transform="rotate(-90 10.4 405.9)">DW (g/L)</text>
<text x="435.3" y="405" fill="#0000ff" font-size="11.2" font-weight="bold" font-family='"Liberation Serif", serif' text-anchor="middle" transform="rotate(-90 435.3 405)">THSG (mg/L)</text>
</svg></body></html>
